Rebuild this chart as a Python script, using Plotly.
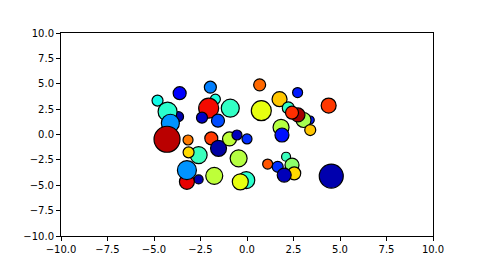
import plotly.graph_objects as go

# data: x, y, marker diameter (px), colour value (0..1 on jet)
xs = [-3.68, -4.81, -3.62, -4.27, -4.12, -4.30, -3.17,
      -1.97, -1.70, -2.06, -2.42, -1.56, -0.90,
      0.68, 2.72, 1.75, 0.77, 3.40, 3.04, 2.74, 2.22, 2.42, 3.40, 4.39,
      1.83, 1.88,
      -1.92, -1.53, -0.94, -0.54, 0.0,
      -2.60, -3.14, -0.45,
      -2.60, -3.23, -3.23, -1.76, -0.04, -0.36,
      1.11, 1.65, 2.10, 2.42, 2.54, 2.00, 4.53]
ys = [1.76, 3.34, 4.07, 2.25, 1.11, -0.47, -0.54,
      4.66, 3.48, 2.59, 1.66, 1.36, 2.59,
      4.89, 4.13, 3.48, 2.35, 1.43, 1.43, 1.93, 2.62, 2.15, 0.44, 2.85,
      0.71, -0.05,
      -0.38, -1.36, -0.44, -0.05, -0.44,
      -2.03, -1.76, -2.35,
      -4.43, -4.66, -3.51, -4.07, -4.50, -4.66,
      -2.91, -3.18, -2.19, -3.01, -3.83, -4.00, -4.10]
sizes = [10, 11, 13, 19, 18, 26, 10,
         12, 10, 20, 11, 13, 18,
         12, 10, 15, 20, 8, 15, 14, 12, 13, 11, 15,
         16, 14,
         13, 16, 14, 10, 10,
         17, 11, 17,
         9, 15, 19, 17, 17, 16,
         10, 11, 9, 14, 13, 14, 24]
cvals = [0.04, 0.37, 0.12, 0.40, 0.27, 0.95, 0.78,
         0.25, 0.38, 0.90, 0.06, 0.20, 0.41,
         0.80, 0.15, 0.70, 0.63, 0.15, 0.55, 0.97, 0.41, 0.86, 0.70, 0.85,
         0.57, 0.14,
         0.85, 0.03, 0.58, 0.05, 0.17,
         0.42, 0.68, 0.57,
         0.04, 0.91, 0.27, 0.58, 0.40, 0.63,
         0.82, 0.17, 0.42, 0.52, 0.68, 0.05, 0.04]

tickvals = [-10, -7.5, -5, -2.5, 0, 2.5, 5, 7.5, 10]
ticktext = ["\u221210.0", "\u22127.5", "\u22125.0", "\u22122.5", "0.0", "2.5", "5.0", "7.5", "10.0"]

jet = [
    [0.0, "rgb(0,0,128)"], [0.11, "rgb(0,0,255)"], [0.125, "rgb(0,0,255)"],
    [0.34, "rgb(0,219,255)"], [0.35, "rgb(0,230,247)"], [0.375, "rgb(21,255,226)"],
    [0.64, "rgb(239,255,8)"], [0.65, "rgb(247,246,0)"], [0.66, "rgb(255,236,0)"],
    [0.89, "rgb(255,19,0)"], [0.91, "rgb(232,0,0)"], [1.0, "rgb(128,0,0)"],
]

fig = go.Figure(go.Scatter(
    x=xs, y=ys, mode="markers",
    marker=dict(size=sizes, color=cvals, colorscale=jet, cmin=0, cmax=1,
                opacity=1, line=dict(color="black", width=1.2)),
    hoverinfo="skip",
))

axis = dict(range=[-10, 10], tickvals=tickvals, ticktext=ticktext,
            showgrid=False, zeroline=False, showline=True, mirror=True,
            linecolor="black", linewidth=1, ticks="outside", ticklen=4,
            tickcolor="black", tickfont=dict(family="DejaVu Sans", size=10, color="black"))

fig.update_layout(
    width=480, height=270,
    margin=dict(l=61, r=47, t=33, b=34),
    paper_bgcolor="white", plot_bgcolor="white",
    xaxis=axis, yaxis=axis, showlegend=False,
)

fig.write_html("out.html")
